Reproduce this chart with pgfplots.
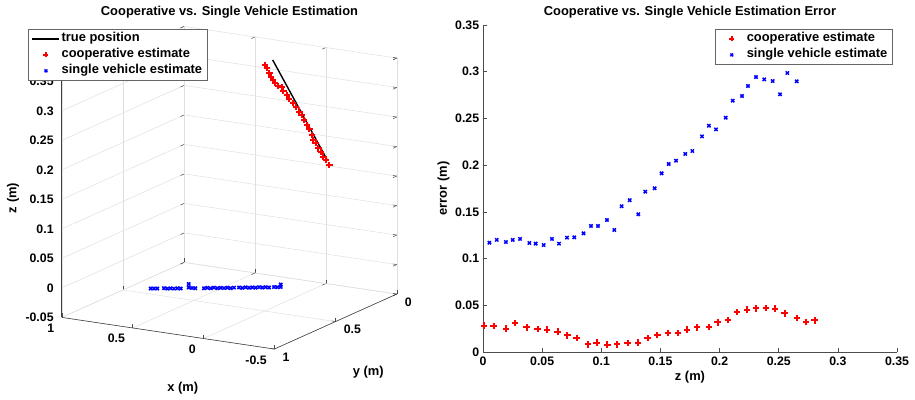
\documentclass[border=0pt]{standalone}
\usepackage{fontspec}
\setmainfont{Liberation Sans}
\usepackage{pgfplots}
\pgfplotsset{compat=1.18}
\newcommand{\tf}{\bfseries\fontsize{12.9}{15}\selectfont}
\newcommand{\tkf}{\bfseries\fontsize{12.3}{14}\selectfont}
\newcommand{\legmark}[4]{% color, mark, size, line width
  \pgfpathrectangle{\pgfpoint{0pt}{-1pt}}{\pgfpoint{27pt}{2pt}}\pgfusepath{use as bounding box}%
  \begin{pgfscope}\pgfsetstrokecolor{#1}\pgfsetfillcolor{#1}\pgfsetlinewidth{#4}%
  \pgfsetplotmarksize{#3}\pgftransformshift{\pgfpoint{13.5pt}{0pt}}\pgfuseplotmark{#2}\end{pgfscope}}
\pgfplotsset{
  mylegend/.style={
    legend cell align=left,
    legend style={draw=black!60, line width=0.5pt, fill=white,
      inner xsep=3.2pt, inner ysep=1.35pt, row sep=0pt,
      nodes={inner xsep=1.5pt, inner ysep=2pt, text height=9pt, text depth=3pt, font=\tf}},
  },
  coop/.style={only marks, mark=+, color=red, mark size=3.2pt, line width=1.9pt,
    mark options={solid, draw=red, fill=red, line width=1.9pt}, forget plot},
  single/.style={only marks, mark=x, color=blue, mark size=2.3pt, line width=1.5pt,
    mark options={solid, draw=blue, fill=blue, line width=1.5pt}, forget plot},
  truelegimg/.style={legend image code/.code={\draw[black, line width=1.4pt] (0pt,0pt) -- (27pt,0pt);}},
  cooplegimg/.style={legend image code/.code={\legmark{red}{+}{2.5pt}{1.6pt}}},
  singlelegimg/.style={legend image code/.code={\legmark{blue}{x}{2pt}{1.4pt}}},
}
\begin{document}
\begin{tikzpicture}[x=1pt,y=1pt]
\useasboundingbox (0,0) rectangle (915,399);
% ---------------- left 3D axis ----------------
\begin{axis}[
  at={(325.9pt,145pt)}, anchor=origin,
  disabledatascaling,
  x={(-141.7pt,21.1pt)}, y={(-122.4pt,-55pt)}, z={(0pt,590pt)},
  xmin=-0.5, xmax=1, ymin=0, ymax=1, zmin=-0.05, zmax=0.35,
  xtick={-0.5,0,0.5,1}, ytick={0,0.5,1},
  ztick={-0.05,0,0.05,0.1,0.15,0.2,0.25,0.3,0.35},
  scaled ticks=false,
  /pgf/number format/fixed, /pgf/number format/precision=2,
  /pgf/number format/assume math mode=true,
  tick label style={font=\tkf},
  xticklabel style={anchor=north east, inner sep=0pt, xshift=-7.5pt, yshift=-6.2pt},
  yticklabel style={anchor=north west, inner sep=0pt, xshift=8pt, yshift=-3.4pt},
  zticklabel style={anchor=east, inner sep=0pt, xshift=-8pt},
  tick pos=left,
  major tick length=4pt,
  tick style={black!70, line width=0.5pt},
  grid=major, grid style={gray!25, line width=0.5pt},
  axis line style={draw=none},
  clip=false,
  title={Cooperative vs. Single Vehicle Estimation},
  every axis title/.style={at={(axis cs:0.6803,0,0.3803)}, anchor=base, font=\tf},
  xlabel={x (m)}, ylabel={y (m)}, zlabel={z (m)},
  every axis x label/.style={at={(axis cs:-0.4772,1.7224,-0.05)}, anchor=center, font=\tf},
  every axis y label/.style={at={(axis cs:-1.2652,1.1183,-0.05)}, anchor=center, font=\tf},
  every axis z label/.style={at={(axis cs:1.3444,1,0.1401)}, anchor=center, rotate=90, font=\tf},
  mylegend,
  legend style={at={(axis cs:1.2364,1,0.4299)}, anchor=north west},
]
\draw[black!75, line width=0.6pt] (axis cs:1,1,-0.05) -- (axis cs:1,1,0.35);
\draw[black!75, line width=0.6pt] (axis cs:1,1,-0.05) -- (axis cs:-0.5,1,-0.05) -- (axis cs:-0.5,0,-0.05);
\addlegendimage{truelegimg}
\addlegendentry{true position}
\addlegendimage{cooplegimg}
\addlegendentry{cooperative estimate}
\addlegendimage{singlelegimg}
\addlegendentry{single vehicle estimate}
\addplot3[black, line width=1.4pt, no marks, forget plot] coordinates {(0.3754,0,0.3154) (-0.0078,0,0.1604)};
\addplot3[coop] coordinates {
(0.4298,0,0.3050) (0.4136,0,0.3000) (0.3994,0,0.2930) (0.3874,0,0.2867)
(0.3754,0,0.2815) (0.3592,0,0.2765) (0.3359,0,0.2732) (0.3119,0,0.2714)
(0.3006,0,0.2660) (0.2766,0,0.2596) (0.2583,0,0.2530) (0.2343,0,0.2471)
(0.2110,0,0.2411) (0.1877,0,0.2345) (0.1708,0,0.2295) (0.1546,0,0.2216)
(0.1355,0,0.2138) (0.1171,0,0.2072) (0.1002,0,0.1981) (0.0889,0,0.1900)
(0.0720,0,0.1851) (0.0536,0,0.1772) (0.0367,0,0.1721) (0.0183,0,0.1643)
(-0.0007,0,0.1593) (-0.0240,0,0.1517)};
\addplot3[single] coordinates {
(0.5217,0.8274,0) (0.5042,0.8207,0) (0.4867,0.8140,0) (0.4547,0.7963,0)
(0.4325,0.7950,0) (0.4180,0.7840,0) (0.3970,0.7814,0) (0.3830,0.7706,0)
(0.3627,0.7664,0) (0.3733,0.6887,0) (0.3320,0.7365,0) (0.3087,0.7366,0)
(0.2888,0.7326,0) (0.2415,0.7163,0) (0.2299,0.7027,0) (0.2060,0.7027,0)
(0.1968,0.6864,0) (0.1722,0.6879,0) (0.1589,0.6755,0) (0.1379,0.6729,0)
(0.1251,0.6607,0) (0.1012,0.6606,0) (0.0908,0.6457,0) (0.0654,0.6342,0)
(0.0432,0.6329,0) (0.0323,0.6178,0) (0.0089,0.6180,0) (-0.0039,0.6058,0)
(-0.0255,0.6030,0) (-0.0371,0.5894,0) (-0.0593,0.5882,0) (-0.0726,0.5758,0)
(-0.0936,0.5732,0) (-0.1142,0.5562,0) (-0.1341,0.5522,0) (-0.1202,0.5084,0)
(-0.1497,0.5425,0)};
\end{axis}
% ---------------- right 2D axis ----------------
\begin{axis}[
  at={(483pt,47pt)}, anchor=south west,
  scale only axis, width=414pt, height=327pt,
  xmin=0, xmax=0.35, ymin=0, ymax=0.35,
  xtick={0,0.05,0.1,0.15,0.2,0.25,0.3,0.35},
  ytick={0,0.05,0.1,0.15,0.2,0.25,0.3,0.35},
  scaled ticks=false,
  /pgf/number format/fixed, /pgf/number format/precision=2,
  /pgf/number format/assume math mode=true,
  axis x line*=bottom, axis y line*=left,
  axis line style={black!70, line width=0.6pt, -},
  tick align=inside, major tick length=3.7pt,
  tick style={black!70, line width=0.5pt},
  tick label style={font=\tkf},
  xticklabel style={anchor=north, inner sep=0pt, yshift=-5pt},
  yticklabel style={anchor=east, inner sep=0pt, xshift=-3.7pt},
  title={Cooperative vs. Single Vehicle Estimation Error},
  every axis title/.style={at={(0.5,1)}, anchor=base, yshift=9.7pt, font=\tf},
  xlabel={z (m)}, ylabel={error (m)},
  every axis x label/.style={at={(axis description cs:0.5,-0.0755)}, anchor=center, font=\tf},
  every axis y label/.style={at={(axis description cs:-0.0954,0.5)}, anchor=center, rotate=90, font=\tf},
  mylegend,
  legend style={at={(0.9886,0.9869)}, anchor=north east},
]
\addlegendimage{cooplegimg}
\addlegendentry{cooperative estimate}
\addlegendimage{singlelegimg}
\addlegendentry{single vehicle estimate}
\addplot[coop] coordinates {
(0.0006,0.0282) (0.0090,0.0278) (0.0192,0.0250) (0.0273,0.0310) (0.0369,0.0264)
(0.0462,0.0243) (0.0541,0.0239) (0.0631,0.0218) (0.0713,0.0178) (0.0792,0.0150)
(0.0888,0.0082) (0.0961,0.0100) (0.1051,0.0079) (0.1133,0.0082) (0.1223,0.0096)
(0.1310,0.0100) (0.1392,0.0150) (0.1474,0.0182) (0.1564,0.0203) (0.1651,0.0203)
(0.1725,0.0239) (0.1809,0.0264) (0.1910,0.0268) (0.1984,0.0317) (0.2069,0.0342)
(0.2147,0.0428) (0.2232,0.0453) (0.2310,0.0467) (0.2390,0.0474) (0.2468,0.0464)
(0.2550,0.0414) (0.2654,0.0364) (0.2733,0.0318) (0.2804,0.0339)};
\addplot[single] coordinates {
(0.0054,0.1170) (0.0116,0.1200) (0.0194,0.1177) (0.0251,0.1200) (0.0313,0.1210)
(0.0392,0.1167) (0.0445,0.1160) (0.0513,0.1145) (0.0583,0.1210) (0.0642,0.1160)
(0.0710,0.1224) (0.0772,0.1227) (0.0850,0.1270) (0.0913,0.1349) (0.0972,0.1349)
(0.1048,0.1413) (0.1110,0.1306) (0.1172,0.1560) (0.1240,0.1625) (0.1313,0.1474)
(0.1372,0.1716) (0.1451,0.1752) (0.1510,0.1912) (0.1570,0.2012) (0.1632,0.2048)
(0.1710,0.2120) (0.1770,0.2151) (0.1851,0.2308) (0.1910,0.2422) (0.1970,0.2383)
(0.2052,0.2508) (0.2111,0.2690) (0.2190,0.2740) (0.2240,0.2847) (0.2308,0.2943)
(0.2378,0.2918) (0.2449,0.2900) (0.2511,0.2758) (0.2573,0.2986) (0.2652,0.2897)};
\end{axis}
\end{tikzpicture}
\end{document}
